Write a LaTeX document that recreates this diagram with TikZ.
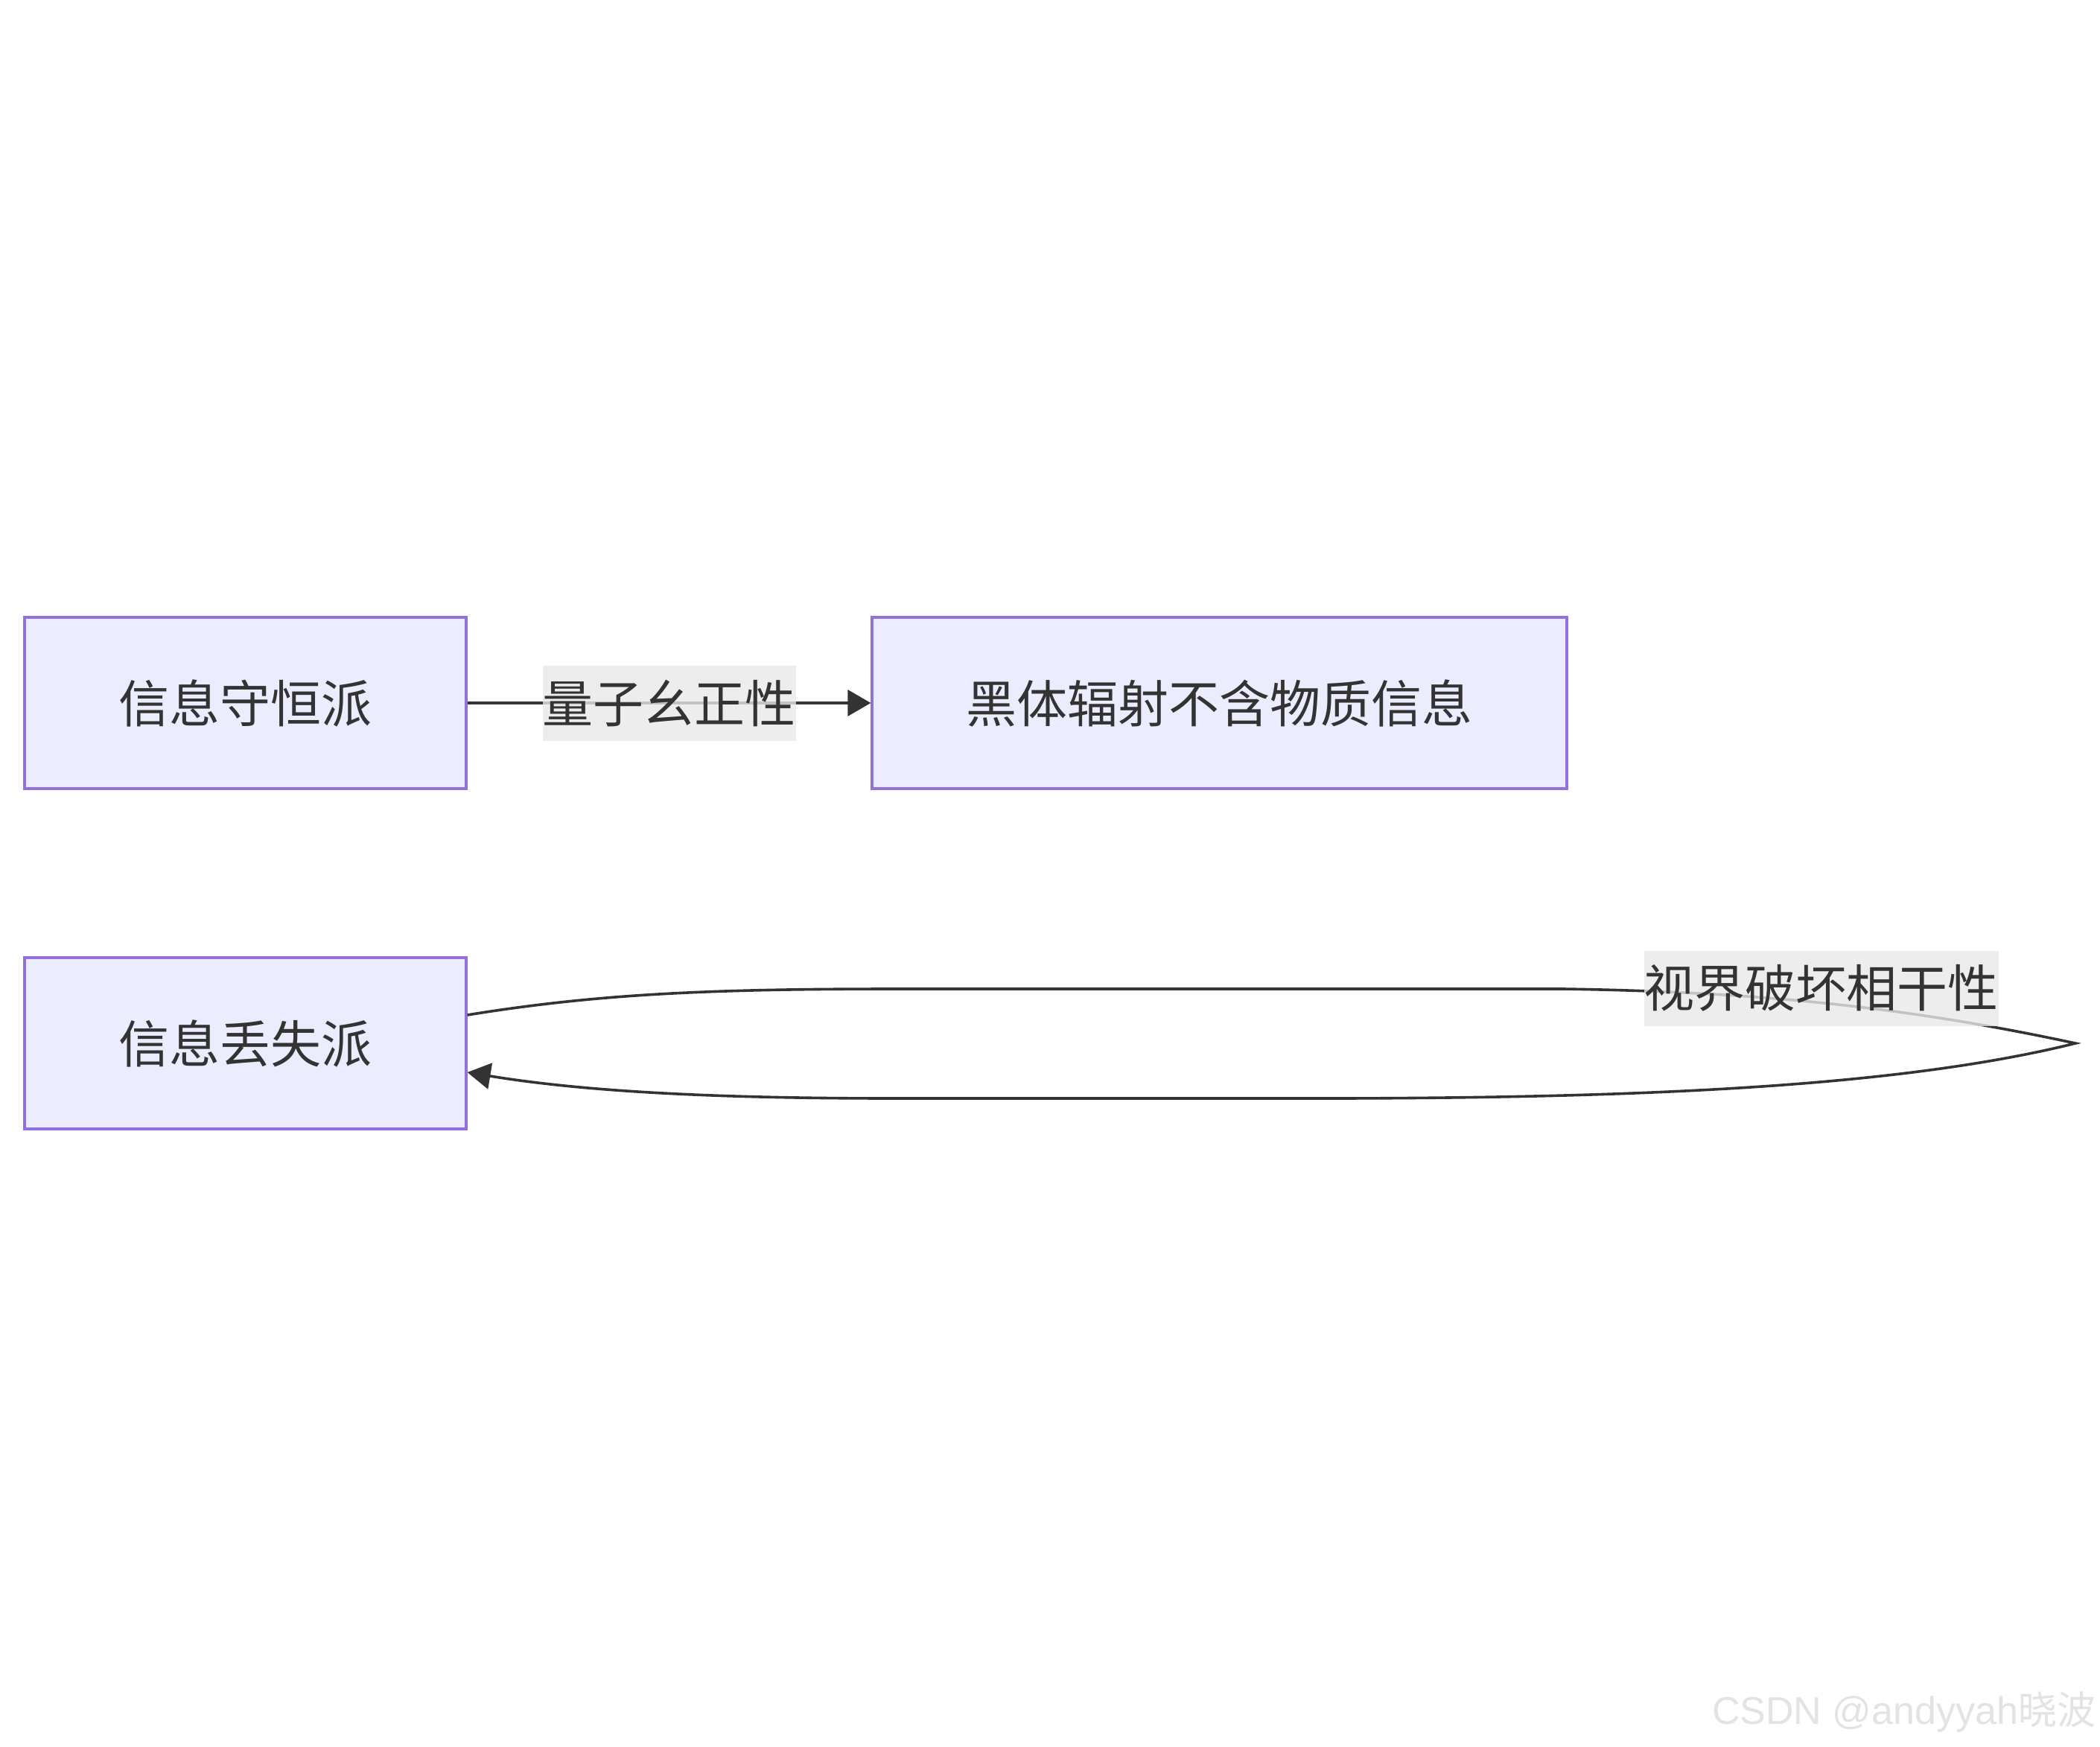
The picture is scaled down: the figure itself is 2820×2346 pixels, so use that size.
\documentclass[tikz,border=0pt]{standalone}
\usepackage{fontspec}
\setmainfont{Liberation Sans}
\newfontfamily\cjk{Noto Sans CJK SC}
\usetikzlibrary{arrows.meta}

\definecolor{boxfill}{HTML}{ECECFF}
\definecolor{boxline}{HTML}{9370DB}
\definecolor{ink}{HTML}{333333}
\definecolor{lblfill}{HTML}{E8E8E8}
\definecolor{wmark}{HTML}{E3E3E3}

\tikzset{
  school/.style={draw=boxline, fill=boxfill, line width=0.8pt, text=ink,
    minimum height=57.5pt, inner sep=0pt, font=\cjk\fontsize{17pt}{20pt}\selectfont},
  link/.style={draw=ink, line width=0.9pt, -{Triangle[length=7.75pt, width=8.75pt]}},
  linklabel/.style={fill=lblfill, fill opacity=0.8, text opacity=1, text=ink,
    inner sep=0pt, minimum height=25.25pt, font=\cjk\fontsize{17pt}{20pt}\selectfont}
}

\begin{document}
\begin{tikzpicture}[x=0.25pt, y=-0.25pt]
  % Fix the page to the size of the reference
  \useasboundingbox (0,0) rectangle (2820,2346);

  % The three boxes
  \node[school, minimum width=148.25pt] (keep) at (329.5,944) {信息守恒派};
  \node[school, minimum width=233.25pt] (blackbody) at (1637.5,944) {黑体辐射不含物质信息};
  \node[school, minimum width=148.25pt] (lost) at (329.5,1401) {信息丢失派};

  % Straight link between the top boxes
  \draw[link] (keep) -- node[linklabel] {量子幺正性} (blackbody);

  % Loop from the lower box back onto itself
  \draw[link] ([yshift=9.5pt]lost.east)
    .. controls (800,1335) and (950,1328) .. (1200,1328)
    -- (2100,1328)
    .. controls (2350,1332) and (2550,1350) .. (2787,1401)
    .. controls (2550,1460) and (2200,1474) .. (1800,1475)
    -- (1200,1475)
    .. controls (950,1475) and (780,1465) .. ([yshift=-9.75pt]lost.east);
  \node[linklabel] (horizon) at (2445.5,1327) {视界破坏相干性};

  % Watermark
  \node[anchor=base east, text=wmark, inner sep=0pt, font=\fontsize{13pt}{15pt}\selectfont]
    (mark) at (2815,2315) {CSDN @andyyah{\cjk 晓波}};
\end{tikzpicture}
\end{document}
